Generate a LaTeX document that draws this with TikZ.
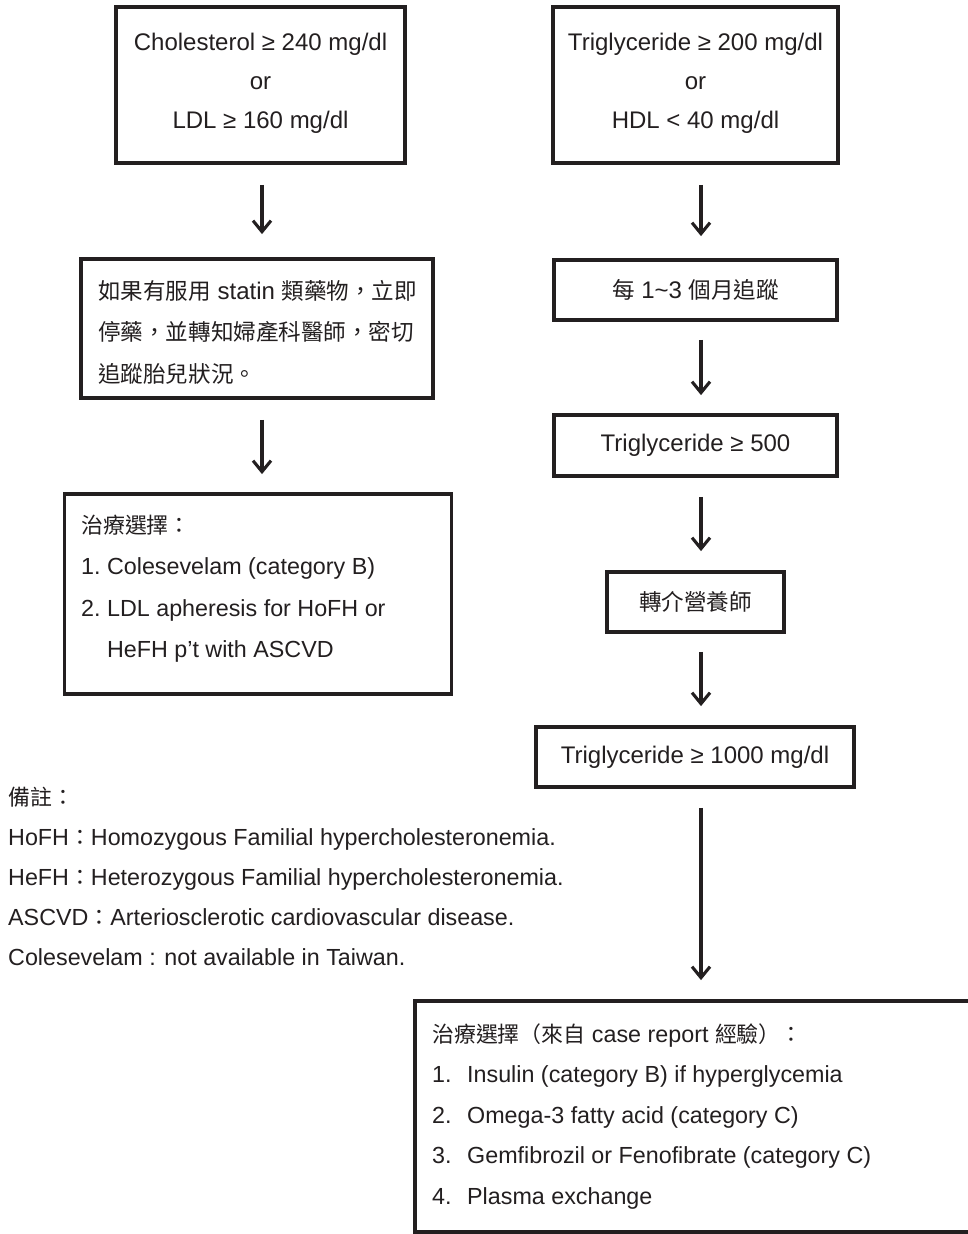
\documentclass[tikz,border=0pt]{standalone}
\usepackage{fontspec}
\setmainfont{Liberation Sans}
\newfontfamily\cjk[Scale=0.94]{Noto Sans CJK TC}
\usetikzlibrary{arrows.meta}
\definecolor{ink}{HTML}{231F20}
\newcommand{\zh}[1]{{\cjk #1}}
\begin{document}
\begin{tikzpicture}[x=1pt,y=-1pt,
  every node/.style={text=ink, font=\fontsize{24}{39}\selectfont},
  box/.style={draw=ink, line width=3.8pt, inner sep=0pt, rectangle},
  txt/.style={inner sep=0pt, anchor=base west, align=left},
  arr/.style={draw=ink, line width=3.1pt, -{Straight Barb[length=11pt,width=18pt]}}
]
\useasboundingbox[fill=white] (0,0) rectangle (967,1234);
\coordinate (L) at (262,0);
\coordinate (R) at (701,0);

% left column
\node[box, minimum width=289pt, minimum height=156pt, align=center, text depth=8pt] (b1) at (260.5,85)
  {Cholesterol ≥ 240 mg/dl\\or\\LDL ≥ 160 mg/dl};
\node[box, minimum width=352pt, minimum height=139pt] (b2) at (257,328.5) {};
\node[txt, font=\fontsize{24}{41.5}\selectfont] (t2) at (98,382)
  {\zh{如果有服用} statin \zh{類藥物，立即}\\\zh{停藥，並轉知婦產科醫師，密切}\\\zh{追蹤胎兒狀況。}};
\node[box, minimum width=387pt, minimum height=200pt] (b3) at (258,594) {};
\node[txt, font=\fontsize{23.3}{41.5}\selectfont] (t3) at (81,657.5)
  {\zh{治療選擇：}\\1.\ Colesevelam (category B)\\2.\ LDL apheresis for HoFH or\\\phantom{2.\ }HeFH p’t with ASCVD};

% right column
\node[box, minimum width=285pt, minimum height=156pt, align=center, text depth=8pt] (b4) at (695.5,85)
  {Triglyceride ≥ 200 mg/dl\\or\\HDL < 40 mg/dl};
\node[box, minimum width=283pt, minimum height=60pt] (b5) at (695.5,290)
  {\zh{每} 1\textasciitilde3 \zh{個月追蹤}};
\node[box, minimum width=283pt, minimum height=61pt] (b6) at (695.5,445.5)
  {Triglyceride ≥ 500};
\node[box, minimum width=177pt, minimum height=60pt] (b7) at (695.5,602)
  {\zh{轉介營養師}};
\node[box, minimum width=318pt, minimum height=60pt] (b8) at (695,757)
  {Triglyceride ≥ 1000 mg/dl};
\node[box, minimum width=575pt, minimum height=231pt] (b9) at (702.5,1116.5) {};
\node[txt, font=\fontsize{23.3}{40.5}\selectfont] (t9) at (432,1204)
  {\zh{治療選擇（來自} case report \zh{經驗）：}\\
   \makebox[35pt][l]{1.}Insulin (category B) if hyperglycemia\\
   \makebox[35pt][l]{2.}Omega-3 fatty acid (category C)\\
   \makebox[35pt][l]{3.}Gemfibrozil or Fenofibrate (category C)\\
   \makebox[35pt][l]{4.}Plasma exchange};

% notes
\node[txt, font=\fontsize{23.3}{40}\selectfont] (notes) at (8,965.5)
  {\zh{備註：}\\
   HoFH\zh{：}Homozygous Familial hypercholesteronemia.\\
   HeFH\zh{：}Heterozygous Familial hypercholesteronemia.\\
   ASCVD\zh{：}Arteriosclerotic cardiovascular disease.\\
   Colesevelam : not available in Taiwan.};

% arrows
\draw[arr, shorten <=20pt, shorten >=23pt] (b1.south -| L) -- (b2.north -| L);
\draw[arr, shorten <=20pt, shorten >=18pt] (b2.south -| L) -- (b3.north -| L);
\draw[arr, shorten <=20pt, shorten >=22pt] (b4.south -| R) -- (b5.north -| R);
\draw[arr, shorten <=18pt, shorten >=18pt] (b5.south -| R) -- (b6.north -| R);
\draw[arr, shorten <=19pt, shorten >=19pt] (b6.south -| R) -- (b7.north -| R);
\draw[arr, shorten <=18pt, shorten >=19pt] (b7.south -| R) -- (b8.north -| R);
\draw[arr, shorten <=19pt, shorten >=19pt] (b8.south -| R) -- (b9.north -| R);
\end{tikzpicture}
\end{document}
